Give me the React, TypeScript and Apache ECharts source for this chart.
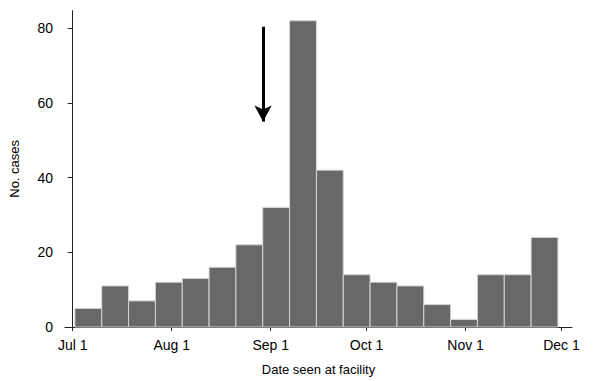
import React, { useEffect, useRef } from "react";
import * as echarts from "echarts";

// Weekly-ish bins of cases
const counts = [5, 11, 7, 12, 13, 16, 22, 32, 82, 42, 14, 12, 11, 6, 2, 14, 14, 24];
const binStartDay = 0.7; // days after Jul 1 where the first bin begins
const binWidthDays = 8.4;

const tickDays = [0, 31, 62, 92, 123, 153];
const tickLabels = ["Jul 1", "Aug 1", "Sep 1", "Oct 1", "Nov 1", "Dec 1"];
const yTicks = [0, 20, 40, 60, 80];

const arrowDay = 59.6;
const arrowFrom = 80.4;
const arrowTo = 55;

const FONT = "Liberation Sans, Arial, Helvetica, sans-serif";

export default function App() {
  const ref = useRef<HTMLDivElement>(null);
  useEffect(() => {
    if (!ref.current) return;
    const chart = echarts.init(ref.current, undefined, { renderer: "svg" });
    const data = counts.map((c, i) => [
      binStartDay + i * binWidthDays,
      binStartDay + (i + 1) * binWidthDays,
      c,
    ]);
    chart.setOption({
      animation: false,
      backgroundColor: "#ffffff",
      grid: { left: 60, right: 28, top: 10.7, bottom: 51, containLabel: false },
      xAxis: {
        type: "value",
        min: -2.4,
        max: 156.3,
        name: "Date seen at facility",
        nameLocation: "middle",
        nameGap: 36,
        nameTextStyle: { color: "#000", fontSize: 13, fontFamily: FONT },
        axisLine: { show: true, onZero: false, lineStyle: { color: "#222", width: 1 } },
        axisTick: {
          show: true,
          length: 4,
          inside: false,
          customValues: tickDays,
          lineStyle: { color: "#222" },
        },
        axisLabel: {
          customValues: tickDays,
          formatter: (v: number) => {
            const idx = tickDays.indexOf(Math.round(v));
            return idx >= 0 ? tickLabels[idx] : "";
          },
          color: "#000",
          fontSize: 14,
          fontFamily: FONT,
          margin: 11,
        },
        splitLine: { show: false },
      },
      yAxis: {
        type: "value",
        min: 0,
        max: 84.7,
        name: "No. cases",
        nameLocation: "middle",
        nameGap: 44,
        nameRotate: 90,
        nameTextStyle: { color: "#000", fontSize: 13, fontFamily: FONT },
        axisLine: { show: true, lineStyle: { color: "#222", width: 1 } },
        axisTick: {
          show: true,
          length: 5,
          customValues: yTicks,
          lineStyle: { color: "#222" },
        },
        axisLabel: {
          customValues: yTicks,
          color: "#000",
          fontSize: 14,
          fontFamily: FONT,
          margin: 12,
        },
        splitLine: { show: false },
      },
      series: [
        {
          type: "custom",
          data,
          encode: { x: [0, 1], y: 2 },
          renderItem: (params: any, api: any) => {
            const p0 = api.coord([api.value(0), api.value(2)]);
            const p1 = api.coord([api.value(1), 0]);
            return {
              type: "rect",
              shape: { x: p0[0], y: p0[1], width: p1[0] - p0[0], height: p1[1] - p0[1] },
              style: { fill: "#686868", stroke: "#d4d4d4", lineWidth: 1 },
            };
          },
          markLine: {
            silent: true,
            symbol: ["none", "arrow"],
            symbolSize: [13, 16],
            label: { show: false },
            lineStyle: { color: "#000", width: 3, type: "solid" },
            data: [
              [
                { coord: [arrowDay, arrowFrom] },
                { coord: [arrowDay, arrowTo] },
              ],
            ],
          },
        },
      ],
    });
    return () => chart.dispose();
  }, []);
  return (
    <div
      ref={ref}
      style={{ position: "absolute", left: 0, top: 0, width: 600, height: 381 }}
    />
  );
}
